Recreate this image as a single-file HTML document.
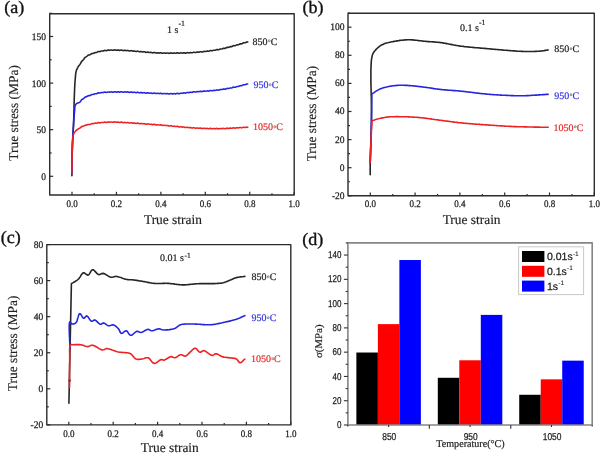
<!DOCTYPE html><html><head><meta charset="utf-8"><style>html,body{margin:0;padding:0;background:#fff;}svg{display:block;will-change:transform;text-rendering:geometricPrecision;}</style></head><body><svg width="602" height="455" viewBox="0 0 602 455">
<rect width="602" height="455" fill="#fff"/>
<polyline points="71.90,175.80 71.91,175.29 71.92,174.79 71.92,174.28 71.93,173.77 71.94,173.26 71.95,172.75 71.95,172.23 71.96,171.72 71.97,171.20 71.97,170.69 71.98,170.17 71.99,169.65 71.99,169.14 72.00,168.62 72.01,168.10 72.01,167.58 72.02,167.06 72.02,166.54 72.03,166.02 72.04,165.50 72.04,164.98 72.05,164.46 72.05,163.94 72.06,163.42 72.07,162.90 72.07,162.38 72.08,161.87 72.09,161.35 72.09,160.83 72.10,160.32 72.11,159.80 72.11,159.29 72.12,158.77 72.13,158.26 72.13,157.75 72.14,157.24 72.15,156.73 72.16,156.22 72.17,155.72 72.17,155.21 72.18,154.71 72.19,154.21 72.20,153.71 72.21,153.21 72.22,152.71 72.23,152.22 72.24,151.72 72.25,151.23 72.26,150.75 72.28,150.26 72.29,149.78 72.30,149.30 72.31,148.82 72.33,148.34 72.34,147.87 72.35,147.40 72.37,146.93 72.38,146.46 72.40,146.00 72.42,145.46 72.44,144.92 72.46,144.38 72.48,143.85 72.51,143.32 72.53,142.79 72.55,142.26 72.58,141.74 72.60,141.22 72.63,140.70 72.66,140.18 72.69,139.67 72.71,139.16 72.74,138.65 72.77,138.14 72.80,137.63 72.83,137.13 72.86,136.63 72.89,136.13 72.92,135.63 72.95,135.13 72.98,134.64 73.01,134.14 73.04,133.65 73.07,133.16 73.09,132.67 73.12,132.19 73.15,131.70 73.18,131.22 73.21,130.73 73.24,130.25 73.26,129.77 73.29,129.29 73.32,128.81 73.34,128.33 73.37,127.85 73.39,127.38 73.42,126.90 73.44,126.42 73.46,125.95 73.48,125.47 73.50,125.00 73.52,124.47 73.54,123.95 73.56,123.42 73.58,122.90 73.60,122.37 73.62,121.85 73.64,121.32 73.65,120.80 73.67,120.28 73.69,119.76 73.70,119.24 73.72,118.72 73.73,118.20 73.75,117.69 73.76,117.18 73.77,116.67 73.79,116.16 73.80,115.65 73.81,115.15 73.83,114.65 73.84,114.15 73.85,113.66 73.87,113.16 73.88,112.68 73.89,112.19 73.90,111.71 73.91,111.23 73.93,110.76 73.94,110.29 73.95,109.82 73.96,109.36 73.98,108.90 73.99,108.45 74.00,108.00 74.02,107.45 74.03,106.92 74.04,106.40 74.06,105.89 74.07,105.39 74.08,104.90 74.09,104.41 74.10,103.93 74.11,103.45 74.12,102.98 74.13,102.51 74.14,102.03 74.16,101.56 74.17,101.08 74.18,100.60 74.19,100.12 74.21,99.62 74.22,99.12 74.24,98.61 74.26,98.09 74.28,97.55 74.30,97.00 74.32,96.54 74.34,96.07 74.35,95.59 74.37,95.10 74.39,94.60 74.41,94.10 74.43,93.58 74.45,93.06 74.47,92.54 74.49,92.01 74.51,91.47 74.53,90.93 74.56,90.39 74.58,89.85 74.60,89.30 74.63,88.75 74.65,88.21 74.68,87.66 74.70,87.12 74.73,86.57 74.76,86.03 74.78,85.50 74.81,84.97 74.84,84.44 74.87,83.92 74.91,83.40 74.94,82.89 74.97,82.39 75.01,81.90 75.04,81.42 75.08,80.95 75.12,80.49 75.16,80.04 75.20,79.60 75.25,79.01 75.30,78.43 75.35,77.86 75.39,77.31 75.43,76.77 75.46,76.23 75.51,75.71 75.55,75.19 75.60,74.68 75.65,74.18 75.72,73.68 75.79,73.19 75.87,72.71 75.97,72.22 76.08,71.74 76.20,71.26 76.34,70.78 76.50,70.30 76.68,69.83 76.87,69.36 77.08,68.89 77.30,68.43 77.53,67.97 77.78,67.51 78.04,66.97 78.30,66.50 78.58,66.08 78.86,65.70 79.15,65.35 79.44,65.00 79.73,64.63 80.03,64.21 80.32,63.75 80.62,63.24 80.91,62.72 81.20,62.22 81.52,61.72 81.83,61.29 82.14,60.93 82.45,60.61 82.77,60.32 83.09,60.00 83.41,59.63 83.74,59.21 84.08,58.73 84.43,58.24 84.79,57.78 85.17,57.40 85.56,57.11 85.97,56.87 86.40,56.61 86.78,56.33 87.18,55.99 87.59,55.61 88.01,55.29 88.44,55.07 88.88,54.98 89.33,54.94 89.79,54.84 90.26,54.61 90.73,54.26 91.21,53.89 91.70,53.63 92.19,53.52 92.69,53.49 93.19,53.41 93.69,53.20 94.19,52.92 94.69,52.68 95.20,52.58 95.70,52.57 96.16,52.56 96.62,52.44 97.08,52.18 97.54,51.87 98.01,51.63 98.48,51.52 98.95,51.55 99.43,51.62 99.91,51.60 100.39,51.45 100.87,51.22 101.36,51.03 101.85,50.96 102.35,50.99 102.85,51.00 103.35,50.90 103.85,50.68 104.36,50.46 104.88,50.37 105.39,50.45 105.91,50.60 106.44,50.65 106.97,50.51 107.50,50.27 107.96,50.11 108.42,50.07 108.89,50.14 109.37,50.23 109.85,50.24 110.33,50.14 110.82,50.01 111.31,49.95 111.80,50.02 112.30,50.19 112.80,50.31 113.30,50.27 113.80,50.10 114.31,49.91 114.82,49.85 115.33,49.96 115.84,50.15 116.36,50.27 116.87,50.24 117.38,50.12 117.90,50.06 118.41,50.13 118.93,50.28 119.44,50.38 119.96,50.33 120.47,50.18 120.98,50.05 121.49,50.08 121.99,50.26 122.50,50.48 123.00,50.59 123.50,50.53 124.00,50.39 124.50,50.29 125.01,50.33 125.51,50.47 126.02,50.59 126.52,50.60 127.02,50.51 127.53,50.42 128.03,50.47 128.53,50.65 129.03,50.87 129.54,50.98 130.04,50.92 130.54,50.76 131.04,50.65 131.54,50.69 132.04,50.87 132.54,51.06 133.04,51.14 133.54,51.10 134.04,51.03 134.54,51.04 135.04,51.18 135.54,51.36 136.04,51.47 136.53,51.42 137.03,51.28 137.53,51.17 138.02,51.22 138.52,51.41 139.01,51.64 139.51,51.77 140.00,51.74 140.51,51.63 141.02,51.57 141.53,51.64 142.03,51.80 142.53,51.92 143.03,51.93 143.53,51.83 144.03,51.75 144.52,51.80 145.02,52.00 145.52,52.23 146.01,52.37 146.51,52.34 147.00,52.20 147.50,52.09 147.99,52.11 148.49,52.27 148.99,52.45 149.49,52.53 150.00,52.49 150.50,52.41 151.01,52.42 151.52,52.56 152.04,52.76 152.55,52.87 153.07,52.80 153.60,52.63 154.13,52.51 154.66,52.57 155.20,52.78 155.68,52.96 156.15,53.02 156.64,52.95 157.12,52.84 157.61,52.80 158.10,52.87 158.59,53.01 159.09,53.09 159.59,53.04 160.09,52.89 160.59,52.78 161.09,52.81 161.60,52.99 162.11,53.20 162.62,53.29 163.13,53.20 163.64,53.02 164.16,52.91 164.67,52.95 165.19,53.09 165.70,53.19 166.22,53.16 166.74,53.04 167.26,52.96 167.78,53.01 168.30,53.19 168.81,53.34 169.33,53.33 169.85,53.16 170.37,52.96 170.89,52.89 171.41,52.98 171.92,53.16 172.44,53.27 172.95,53.23 173.47,53.10 173.98,53.01 174.49,53.05 175.00,53.18 175.50,53.26 176.00,53.21 176.49,53.04 176.99,52.87 177.49,52.84 177.98,52.97 178.48,53.16 178.97,53.28 179.47,53.23 179.96,53.07 180.46,52.92 180.95,52.89 181.44,52.97 181.94,53.07 182.43,53.09 182.93,52.98 183.42,52.84 183.92,52.78 184.41,52.86 184.91,53.03 185.40,53.15 185.90,53.11 186.40,52.93 186.90,52.72 187.40,52.62 187.89,52.68 188.40,52.82 188.90,52.90 189.40,52.85 189.90,52.70 190.41,52.59 190.91,52.61 191.42,52.72 191.92,52.80 192.43,52.74 192.94,52.54 193.46,52.32 193.97,52.23 194.48,52.32 195.00,52.48 195.49,52.56 195.98,52.49 196.47,52.32 196.97,52.15 197.46,52.09 197.97,52.15 198.47,52.21 198.98,52.16 199.48,52.00 200.00,51.80 200.51,51.72 201.02,51.80 201.54,51.95 202.05,52.01 202.57,51.90 203.09,51.66 203.60,51.44 204.12,51.37 204.64,51.44 205.16,51.51 205.68,51.48 206.20,51.32 206.72,51.14 207.24,51.09 207.75,51.16 208.27,51.25 208.78,51.21 209.30,51.01 209.81,50.74 210.32,50.56 210.83,50.55 211.33,50.66 211.84,50.74 212.34,50.69 212.84,50.51 213.33,50.31 213.83,50.20 214.32,50.21 214.80,50.25 215.29,50.21 215.77,50.05 216.24,49.82 216.71,49.62 217.18,49.56 217.64,49.63 218.10,49.73 218.64,49.74 219.17,49.57 219.69,49.28 220.22,49.04 220.74,48.95 221.25,48.97 221.77,48.96 222.28,48.83 222.78,48.60 223.29,48.39 223.79,48.30 224.29,48.33 224.78,48.37 225.27,48.29 225.76,48.06 226.25,47.74 226.74,47.48 227.22,47.37 227.70,47.38 228.18,47.42 228.66,47.36 229.13,47.17 229.61,46.93 230.08,46.73 230.55,46.64 231.03,46.63 231.50,46.61 231.96,46.47 232.43,46.21 232.90,45.92 233.37,45.71 233.83,45.64 234.30,45.69 234.82,45.74 235.34,45.64 235.85,45.39 236.36,45.08 236.87,44.86 237.37,44.77 237.87,44.75 238.37,44.67 238.87,44.47 239.36,44.19 239.86,43.96 240.35,43.86 240.84,43.88 241.33,43.90 241.82,43.79 242.31,43.53 242.80,43.19 243.28,42.91 243.77,42.77 244.26,42.76 244.75,42.76 245.24,42.65 245.73,42.43 246.22,42.16 246.71,41.98 247.20,41.93 247.70,41.92" fill="none" stroke="#262626" stroke-width="1.6" stroke-linejoin="round" stroke-linecap="round"/>
<polyline points="71.90,172.50 71.91,172.00 71.92,171.50 71.93,171.00 71.94,170.49 71.94,169.99 71.95,169.48 71.96,168.98 71.97,168.47 71.98,167.96 71.98,167.46 71.99,166.95 72.00,166.44 72.00,165.93 72.01,165.42 72.02,164.91 72.03,164.40 72.03,163.89 72.04,163.38 72.05,162.87 72.05,162.36 72.06,161.85 72.07,161.34 72.08,160.84 72.08,160.33 72.09,159.82 72.10,159.31 72.11,158.80 72.11,158.30 72.12,157.79 72.13,157.28 72.14,156.78 72.15,156.28 72.15,155.77 72.16,155.27 72.17,154.77 72.18,154.27 72.19,153.77 72.20,153.28 72.21,152.78 72.22,152.28 72.23,151.79 72.25,151.30 72.26,150.81 72.27,150.32 72.28,149.83 72.30,149.35 72.31,148.86 72.32,148.38 72.34,147.90 72.35,147.42 72.37,146.95 72.38,146.47 72.40,146.00 72.42,145.47 72.44,144.95 72.46,144.42 72.48,143.90 72.50,143.38 72.52,142.86 72.54,142.35 72.56,141.83 72.59,141.32 72.61,140.81 72.63,140.30 72.66,139.79 72.68,139.29 72.70,138.78 72.73,138.28 72.75,137.78 72.78,137.28 72.80,136.78 72.83,136.28 72.86,135.79 72.88,135.29 72.91,134.80 72.94,134.30 72.96,133.81 72.99,133.32 73.02,132.82 73.05,132.33 73.08,131.84 73.10,131.35 73.13,130.86 73.16,130.37 73.19,129.88 73.22,129.40 73.25,128.91 73.28,128.42 73.31,127.93 73.34,127.44 73.37,126.95 73.41,126.47 73.44,125.98 73.47,125.49 73.50,125.00 73.53,124.48 73.57,123.96 73.60,123.45 73.64,122.93 73.68,122.42 73.71,121.91 73.75,121.39 73.79,120.88 73.83,120.37 73.86,119.86 73.90,119.35 73.94,118.84 73.98,118.34 74.02,117.83 74.06,117.32 74.10,116.82 74.14,116.31 74.18,115.80 74.22,115.30 74.26,114.79 74.30,114.29 74.35,113.78 74.39,113.28 74.43,112.77 74.47,112.27 74.51,111.77 74.55,111.26 74.59,110.76 74.64,110.25 74.68,109.75 74.72,109.24 74.76,108.74 74.80,108.23 74.84,107.73 74.88,107.22 74.92,106.71 74.96,106.21 75.00,105.70 75.00,105.70 75.28,105.26 75.55,104.81 75.83,104.37 76.14,103.95 76.50,103.60 76.97,103.32 77.52,103.13 78.09,102.87 78.66,102.70 79.20,102.57 79.59,102.37 79.96,102.05 80.32,101.61 80.68,101.10 81.04,100.55 81.41,100.05 81.80,99.66 82.17,99.40 82.54,99.20 82.91,99.00 83.30,98.74 83.69,98.40 84.10,97.98 84.54,97.54 85.00,97.18 85.42,96.98 85.86,96.86 86.32,96.74 86.79,96.54 87.28,96.23 87.78,95.90 88.28,95.68 88.79,95.62 89.30,95.65 89.80,95.61 90.30,95.40 90.80,95.06 91.31,94.72 91.81,94.52 92.31,94.46 92.82,94.46 93.33,94.37 93.85,94.16 94.37,93.90 94.90,93.73 95.45,93.72 96.00,93.76 96.47,93.72 96.93,93.53 97.39,93.26 97.85,93.01 98.31,92.88 98.78,92.90 99.26,92.99 99.74,93.04 100.24,92.95 100.75,92.75 101.28,92.56 101.83,92.50 102.40,92.57 102.99,92.60 103.60,92.44 103.99,92.28 104.39,92.13 104.80,92.08 105.22,92.14 105.65,92.28 106.08,92.41 106.53,92.44 106.98,92.34 107.44,92.15 107.90,92.00 108.37,91.96 108.85,92.03 109.34,92.14 109.83,92.16 110.32,92.07 110.83,91.93 111.33,91.88 111.85,91.97 112.37,92.14 112.89,92.23 113.42,92.16 113.95,91.94 114.48,91.77 115.02,91.77 115.57,91.92 116.11,92.09 116.66,92.11 117.21,91.99 117.77,91.88 118.32,91.90 118.88,92.04 119.44,92.14 120.01,92.06 120.57,91.87 121.14,91.74 121.70,91.82 122.27,92.04 122.83,92.21 123.40,92.18 123.85,92.05 124.30,91.92 124.75,91.88 125.22,91.96 125.68,92.08 126.15,92.15 126.63,92.11 127.11,92.00 127.59,91.91 128.08,91.96 128.57,92.13 129.07,92.32 129.56,92.40 130.07,92.31 130.57,92.13 131.08,92.00 131.59,92.04 132.10,92.21 132.62,92.37 133.14,92.41 133.66,92.33 134.18,92.25 134.70,92.28 135.22,92.43 135.75,92.59 136.28,92.61 136.81,92.47 137.34,92.30 137.86,92.27 138.39,92.42 138.92,92.65 139.46,92.80 139.99,92.77 140.52,92.64 141.05,92.56 141.57,92.62 142.10,92.77 142.63,92.87 143.16,92.82 143.68,92.69 144.21,92.63 144.73,92.72 145.25,92.94 145.77,93.13 146.28,93.16 146.79,93.03 147.31,92.87 147.81,92.81 148.32,92.91 148.82,93.08 149.32,93.19 149.82,93.16 150.31,93.07 150.80,93.02 151.28,93.08 151.76,93.25 152.24,93.39 152.71,93.43 153.18,93.32 153.64,93.15 154.10,93.04 154.55,93.06 155.00,93.20 155.55,93.42 156.10,93.52 156.65,93.44 157.18,93.32 157.72,93.29 158.25,93.40 158.77,93.54 159.29,93.58 159.81,93.48 160.32,93.33 160.83,93.28 161.34,93.40 161.84,93.62 162.34,93.79 162.83,93.81 163.33,93.68 163.82,93.53 164.31,93.47 164.80,93.55 165.29,93.70 165.77,93.79 166.26,93.76 166.74,93.65 167.22,93.58 167.70,93.62 168.18,93.78 168.66,93.94 169.15,93.99 169.63,93.89 170.11,93.70 170.59,93.56 171.08,93.55 171.56,93.68 172.05,93.84 172.53,93.91 173.02,93.85 173.51,93.71 174.01,93.63 174.50,93.67 175.00,93.78 175.50,93.84 176.00,93.78 176.50,93.59 177.00,93.40 177.49,93.35 177.99,93.45 178.48,93.62 178.98,93.70 179.48,93.63 179.97,93.44 180.46,93.26 180.96,93.19 181.45,93.24 181.95,93.31 182.44,93.28 182.94,93.14 183.43,92.96 183.92,92.86 184.42,92.91 184.91,93.04 185.41,93.12 185.91,93.04 186.40,92.82 186.90,92.58 187.40,92.45 187.90,92.48 188.40,92.58 188.90,92.63 189.40,92.55 189.90,92.38 190.41,92.24 190.91,92.23 191.42,92.31 191.92,92.37 192.43,92.30 192.94,92.08 193.46,91.85 193.97,91.75 194.48,91.82 195.00,91.98 195.48,92.06 195.97,91.99 196.46,91.82 196.96,91.65 197.45,91.59 197.95,91.65 198.45,91.72 198.96,91.69 199.46,91.53 199.97,91.35 200.48,91.27 200.99,91.36 201.50,91.52 202.02,91.61 202.53,91.52 203.05,91.30 203.57,91.10 204.08,91.04 204.60,91.12 205.12,91.22 205.63,91.22 206.15,91.09 206.67,90.93 207.18,90.89 207.70,90.97 208.21,91.09 208.72,91.10 209.23,90.94 209.74,90.70 210.25,90.53 210.76,90.52 211.26,90.65 211.76,90.77 212.26,90.77 212.76,90.64 213.25,90.46 213.74,90.36 214.23,90.38 214.72,90.45 215.20,90.46 215.68,90.34 216.15,90.14 216.62,89.96 217.08,89.90 217.54,89.97 218.00,90.10 218.54,90.17 219.08,90.05 219.62,89.79 220.15,89.57 220.68,89.50 221.20,89.55 221.73,89.58 222.24,89.50 222.76,89.30 223.27,89.12 223.77,89.06 224.28,89.13 224.78,89.21 225.28,89.17 225.78,88.97 226.27,88.68 226.76,88.46 227.26,88.40 227.74,88.46 228.23,88.53 228.72,88.49 229.20,88.33 229.68,88.12 230.17,87.97 230.65,87.93 231.13,87.96 231.61,87.95 232.09,87.81 232.56,87.56 233.04,87.30 233.52,87.16 234.00,87.17 234.51,87.26 235.01,87.30 235.52,87.17 236.02,86.91 236.52,86.65 237.01,86.49 237.51,86.46 238.00,86.46 238.49,86.37 238.98,86.16 239.47,85.91 239.95,85.72 240.44,85.67 240.92,85.72 241.41,85.75 241.89,85.64 242.37,85.37 242.86,85.05 243.34,84.81 243.82,84.72 244.30,84.73 244.79,84.74 245.27,84.64 245.75,84.43 246.24,84.19 246.72,84.04 247.21,84.00 247.70,84.02" fill="none" stroke="#2525e0" stroke-width="1.6" stroke-linejoin="round" stroke-linecap="round"/>
<polyline points="71.90,172.50 71.91,172.00 71.92,171.49 71.93,170.98 71.93,170.47 71.94,169.96 71.95,169.44 71.96,168.92 71.96,168.40 71.97,167.88 71.98,167.35 71.98,166.83 71.99,166.30 71.99,165.77 72.00,165.24 72.01,164.71 72.01,164.18 72.02,163.65 72.02,163.11 72.03,162.58 72.03,162.05 72.04,161.52 72.04,160.99 72.05,160.46 72.06,159.93 72.06,159.41 72.07,158.88 72.07,158.36 72.08,157.84 72.09,157.32 72.10,156.81 72.10,156.29 72.11,155.78 72.12,155.27 72.13,154.77 72.14,154.27 72.15,153.77 72.16,153.28 72.17,152.79 72.18,152.31 72.19,151.83 72.21,151.35 72.22,150.88 72.24,150.42 72.25,149.96 72.27,149.50 72.28,149.05 72.30,148.61 72.32,148.18 72.34,147.75 72.36,147.32 72.38,146.91 72.40,146.50 72.43,145.90 72.46,145.30 72.49,144.71 72.52,144.12 72.54,143.54 72.57,142.96 72.60,142.39 72.62,141.82 72.65,141.26 72.68,140.71 72.71,140.17 72.74,139.65 72.78,139.13 72.82,138.62 72.87,138.13 72.91,137.65 72.97,137.19 73.02,136.74 73.09,136.30 73.16,135.89 73.23,135.49 73.31,135.10 73.40,134.74 73.50,134.40 73.70,133.83 73.93,133.34 74.17,132.90 74.43,132.50 74.69,132.12 74.95,131.72 75.20,131.30 75.20,131.30 75.58,130.99 75.95,130.68 76.32,130.37 76.70,130.06 77.12,129.74 77.60,129.40 77.95,129.16 78.33,128.80 78.73,128.59 79.16,128.43 79.60,128.26 80.06,128.00 80.53,127.60 81.00,127.14 81.49,126.74 81.98,126.49 82.47,126.40 82.95,126.35 83.43,126.21 83.90,125.94 84.38,125.62 84.87,125.34 85.36,125.20 85.85,125.17 86.35,125.14 86.85,125.01 87.35,124.77 87.85,124.53 88.34,124.41 88.84,124.44 89.33,124.53 89.82,124.55 90.30,124.40 90.82,124.11 91.32,123.82 91.81,123.67 92.29,123.66 92.77,123.69 93.26,123.66 93.76,123.51 94.27,123.30 94.82,123.15 95.39,123.16 96.00,123.26 96.40,123.27 96.82,123.16 97.25,122.96 97.70,122.73 98.17,122.60 98.64,122.61 99.13,122.74 99.63,122.85 100.13,122.83 100.65,122.67 101.17,122.50 101.69,122.43 102.23,122.49 102.76,122.57 103.30,122.52 103.84,122.34 104.37,122.14 104.91,122.10 105.44,122.23 105.98,122.40 106.50,122.46 107.02,122.34 107.54,122.13 108.04,121.99 108.54,121.99 109.03,122.10 109.50,122.19 110.02,122.17 110.52,122.04 111.01,121.93 111.48,121.93 111.94,122.04 112.40,122.20 112.85,122.29 113.29,122.26 113.74,122.12 114.18,121.95 114.64,121.86 115.10,121.91 115.57,122.07 116.05,122.24 116.55,122.31 117.06,122.24 117.60,122.13 118.16,122.13 118.74,122.28 119.36,122.43 120.00,122.39 120.34,122.29 120.69,122.18 121.05,122.11 121.42,122.14 121.80,122.25 122.18,122.42 122.57,122.59 122.97,122.67 123.37,122.65 123.78,122.55 124.20,122.44 124.63,122.40 125.06,122.45 125.50,122.58 125.94,122.70 126.39,122.73 126.85,122.66 127.31,122.56 127.78,122.54 128.25,122.65 128.73,122.85 129.21,123.03 129.70,123.07 130.19,122.96 130.69,122.79 131.19,122.72 131.69,122.80 132.20,122.99 132.71,123.15 133.23,123.17 133.75,123.09 134.27,123.03 134.80,123.10 135.33,123.28 135.86,123.43 136.40,123.42 136.93,123.27 137.47,123.13 138.01,123.16 138.56,123.37 139.10,123.61 139.65,123.71 140.20,123.63 140.75,123.51 141.30,123.51 141.85,123.64 142.40,123.80 142.96,123.82 143.51,123.72 144.06,123.62 144.62,123.69 145.17,123.92 145.73,124.15 146.28,124.20 146.83,124.07 147.39,123.92 147.94,123.91 148.49,124.07 149.04,124.25 149.59,124.32 150.13,124.25 150.68,124.18 151.22,124.25 151.76,124.44 152.30,124.62 152.83,124.64 153.37,124.50 153.90,124.35 154.43,124.33 154.95,124.50 155.47,124.73 155.99,124.87 156.51,124.86 157.02,124.76 157.53,124.71 158.03,124.79 158.53,124.95 159.02,125.06 159.51,125.05 160.00,124.94 160.52,124.84 161.03,124.87 161.55,125.07 162.07,125.32 162.59,125.45 163.10,125.40 163.62,125.26 164.14,125.18 164.66,125.25 165.17,125.42 165.69,125.57 166.21,125.58 166.73,125.50 167.24,125.46 167.76,125.56 168.28,125.77 168.79,125.97 169.31,126.01 169.83,125.90 170.34,125.75 170.86,125.71 171.37,125.84 171.89,126.07 172.40,126.24 172.91,126.26 173.43,126.18 173.94,126.14 174.45,126.22 174.96,126.40 175.47,126.55 175.98,126.55 176.49,126.44 177.00,126.32 177.51,126.35 178.01,126.54 178.52,126.79 179.02,126.95 179.53,126.94 180.03,126.83 180.53,126.74 181.03,126.79 181.53,126.94 182.03,127.09 182.53,127.14 183.03,127.07 183.52,126.99 184.02,127.01 184.51,127.18 185.00,127.40 185.49,127.55 185.98,127.55 186.47,127.41 186.96,127.27 187.44,127.26 187.93,127.38 188.41,127.58 188.89,127.71 189.37,127.72 189.85,127.65 190.33,127.60 190.80,127.65 191.27,127.80 191.75,127.95 192.22,128.02 192.68,127.95 193.15,127.80 193.62,127.69 194.08,127.71 194.54,127.87 195.00,128.08 195.54,128.23 196.08,128.21 196.61,128.08 197.14,128.00 197.66,128.06 198.18,128.21 198.70,128.31 199.22,128.27 199.73,128.14 200.25,128.06 200.75,128.13 201.26,128.33 201.76,128.53 202.27,128.59 202.76,128.49 203.26,128.32 203.76,128.22 204.25,128.27 204.75,128.42 205.24,128.55 205.73,128.57 206.22,128.48 206.71,128.39 207.19,128.40 207.68,128.53 208.17,128.69 208.65,128.77 209.14,128.69 209.62,128.51 210.11,128.36 210.59,128.35 211.08,128.49 211.56,128.68 212.05,128.79 212.54,128.75 213.02,128.63 213.51,128.53 214.00,128.54 214.49,128.65 214.99,128.75 215.48,128.75 215.97,128.61 216.47,128.46 216.97,128.40 217.47,128.51 217.97,128.70 218.47,128.85 218.98,128.82 219.49,128.66 220.00,128.48 220.49,128.43 220.98,128.50 221.48,128.62 221.97,128.66 222.47,128.58 222.96,128.45 223.46,128.37 223.95,128.43 224.45,128.58 224.95,128.69 225.45,128.66 225.95,128.47 226.45,128.26 226.95,128.15 227.45,128.21 227.96,128.36 228.46,128.46 228.96,128.42 229.46,128.28 229.97,128.15 230.47,128.14 230.98,128.23 231.48,128.32 231.99,128.27 232.50,128.09 233.00,127.89 233.51,127.81 234.02,127.89 234.52,128.06 235.03,128.17 235.54,128.12 236.04,127.93 236.55,127.75 237.06,127.70 237.57,127.76 238.08,127.84 238.58,127.83 239.09,127.69 239.60,127.52 240.11,127.47 240.62,127.56 241.12,127.72 241.63,127.79 242.14,127.69 242.64,127.47 243.15,127.27 243.66,127.21 244.16,127.31 244.67,127.43 245.18,127.46 245.68,127.36 246.19,127.21 246.69,127.15 247.20,127.20 247.70,127.32" fill="none" stroke="#ee2222" stroke-width="1.6" stroke-linejoin="round" stroke-linecap="round"/>
<rect x="49.70" y="13.80" width="244.50" height="181.20" fill="none" stroke="#2c2c2c" stroke-width="1.4" stroke-linejoin="round"/>
<line x1="72.00" y1="195.00" x2="72.00" y2="191.80" stroke="#2c2c2c" stroke-width="1.2"/>
<text transform="translate(72.00,207.00) scale(0.9,1)" font-family='"Liberation Serif", serif' font-size="10" text-anchor="middle" fill="#1e1e1e" stroke="#1e1e1e" stroke-width="0.25">0.0</text>
<line x1="94.22" y1="195.00" x2="94.22" y2="193.20" stroke="#2c2c2c" stroke-width="1.2"/>
<line x1="116.44" y1="195.00" x2="116.44" y2="191.80" stroke="#2c2c2c" stroke-width="1.2"/>
<text transform="translate(116.44,207.00) scale(0.9,1)" font-family='"Liberation Serif", serif' font-size="10" text-anchor="middle" fill="#1e1e1e" stroke="#1e1e1e" stroke-width="0.25">0.2</text>
<line x1="138.66" y1="195.00" x2="138.66" y2="193.20" stroke="#2c2c2c" stroke-width="1.2"/>
<line x1="160.88" y1="195.00" x2="160.88" y2="191.80" stroke="#2c2c2c" stroke-width="1.2"/>
<text transform="translate(160.88,207.00) scale(0.9,1)" font-family='"Liberation Serif", serif' font-size="10" text-anchor="middle" fill="#1e1e1e" stroke="#1e1e1e" stroke-width="0.25">0.4</text>
<line x1="183.10" y1="195.00" x2="183.10" y2="193.20" stroke="#2c2c2c" stroke-width="1.2"/>
<line x1="205.32" y1="195.00" x2="205.32" y2="191.80" stroke="#2c2c2c" stroke-width="1.2"/>
<text transform="translate(205.32,207.00) scale(0.9,1)" font-family='"Liberation Serif", serif' font-size="10" text-anchor="middle" fill="#1e1e1e" stroke="#1e1e1e" stroke-width="0.25">0.6</text>
<line x1="227.54" y1="195.00" x2="227.54" y2="193.20" stroke="#2c2c2c" stroke-width="1.2"/>
<line x1="249.76" y1="195.00" x2="249.76" y2="191.80" stroke="#2c2c2c" stroke-width="1.2"/>
<text transform="translate(249.76,207.00) scale(0.9,1)" font-family='"Liberation Serif", serif' font-size="10" text-anchor="middle" fill="#1e1e1e" stroke="#1e1e1e" stroke-width="0.25">0.8</text>
<line x1="271.98" y1="195.00" x2="271.98" y2="193.20" stroke="#2c2c2c" stroke-width="1.2"/>
<line x1="294.20" y1="195.00" x2="294.20" y2="191.80" stroke="#2c2c2c" stroke-width="1.2"/>
<text transform="translate(294.20,207.00) scale(0.9,1)" font-family='"Liberation Serif", serif' font-size="10" text-anchor="middle" fill="#1e1e1e" stroke="#1e1e1e" stroke-width="0.25">1.0</text>
<line x1="49.70" y1="153.00" x2="51.70" y2="153.00" stroke="#2c2c2c" stroke-width="1.2"/>
<line x1="49.70" y1="176.30" x2="53.20" y2="176.30" stroke="#2c2c2c" stroke-width="1.2"/>
<text transform="translate(46.10,179.80) scale(0.95,1)" font-family='"Liberation Serif", serif' font-size="10" text-anchor="end" fill="#1e1e1e" stroke="#1e1e1e" stroke-width="0.25">0</text>
<line x1="49.70" y1="129.70" x2="53.20" y2="129.70" stroke="#2c2c2c" stroke-width="1.2"/>
<text transform="translate(46.10,133.20) scale(0.95,1)" font-family='"Liberation Serif", serif' font-size="10" text-anchor="end" fill="#1e1e1e" stroke="#1e1e1e" stroke-width="0.25">50</text>
<line x1="49.70" y1="106.40" x2="51.70" y2="106.40" stroke="#2c2c2c" stroke-width="1.2"/>
<line x1="49.70" y1="83.10" x2="53.20" y2="83.10" stroke="#2c2c2c" stroke-width="1.2"/>
<text transform="translate(46.10,86.60) scale(0.95,1)" font-family='"Liberation Serif", serif' font-size="10" text-anchor="end" fill="#1e1e1e" stroke="#1e1e1e" stroke-width="0.25">100</text>
<line x1="49.70" y1="59.80" x2="51.70" y2="59.80" stroke="#2c2c2c" stroke-width="1.2"/>
<line x1="49.70" y1="36.50" x2="53.20" y2="36.50" stroke="#2c2c2c" stroke-width="1.2"/>
<text transform="translate(46.10,40.00) scale(0.95,1)" font-family='"Liberation Serif", serif' font-size="10" text-anchor="end" fill="#1e1e1e" stroke="#1e1e1e" stroke-width="0.25">150</text>
<line x1="49.70" y1="13.20" x2="51.70" y2="13.20" stroke="#2c2c2c" stroke-width="1.2"/>
<text x="172.9" y="223.9" font-family='"Liberation Serif", serif' font-size="13.4" text-anchor="middle" fill="#222" stroke="#222" stroke-width="0.15">True strain</text>
<text x="0" y="0" transform="translate(17.8,112.9) rotate(-90)" font-family='"Liberation Serif", serif' font-size="13.4" text-anchor="middle" fill="#222" stroke="#222" stroke-width="0.15">True stress (MPa)</text>
<text x="167" y="32.6" font-family='"Liberation Serif", serif' font-size="10" fill="#222" stroke="#222" stroke-width="0.2">1 s<tspan font-size="7.8" dx="0.1" dy="-6.2">-1</tspan></text>
<text x="252.6" y="44.6" font-family='"Liberation Serif", serif' font-size="10" text-anchor="start" fill="#222" stroke="#222" stroke-width="0.2">850<tspan font-size="5" dx="0.5" dy="-2.4" fill="#777" stroke="#777" stroke-width="0.3">o</tspan><tspan dx="0.2" dy="2.4">C</tspan></text>
<text x="253.5" y="88.2" font-family='"Liberation Serif", serif' font-size="10" text-anchor="start" fill="#3434e6" stroke="#3434e6" stroke-width="0.2">950<tspan font-size="5" dx="0.5" dy="-2.4" fill="#777" stroke="#777" stroke-width="0.3">o</tspan><tspan dx="0.2" dy="2.4">C</tspan></text>
<text x="253.1" y="130.0" font-family='"Liberation Serif", serif' font-size="10" text-anchor="start" fill="#e52b2b" stroke="#e52b2b" stroke-width="0.2">1050<tspan font-size="5" dx="0.5" dy="-2.4" fill="#777" stroke="#777" stroke-width="0.3">o</tspan><tspan dx="0.2" dy="2.4">C</tspan></text>
<text transform="translate(4.20,12.80) scale(1.03,1)" font-family='"Liberation Serif", serif' font-size="17.5" text-anchor="start" fill="#111" stroke="#111" stroke-width="0.35">(a)</text>
<polyline points="370.2,174.7 370.2,173.7 370.2,172.7 370.2,171.8 370.2,170.9 370.2,169.9 370.2,169.0 370.2,168.0 370.2,166.9 370.2,165.8 370.2,164.6 370.2,163.3 370.2,162.6 370.2,161.9 370.2,161.1 370.3,160.4 370.3,159.6 370.3,158.8 370.3,157.9 370.3,157.1 370.4,156.2 370.4,155.3 370.4,154.4 370.5,153.5 370.5,152.5 370.5,151.6 370.6,150.6 370.6,149.6 370.6,148.6 370.7,147.6 370.7,146.5 370.7,145.5 370.8,144.4 370.8,143.4 370.8,142.3 370.9,141.2 370.9,140.1 371.0,139.0 371.0,137.9 371.0,136.8 371.1,135.7 371.1,134.6 371.1,133.5 371.2,132.3 371.2,131.2 371.2,130.1 371.3,129.0 371.3,127.8 371.3,126.7 371.4,125.6 371.4,124.5 371.4,123.3 371.5,122.2 371.5,121.1 371.5,120.0 371.5,119.1 371.5,118.1 371.5,117.2 371.5,116.2 371.5,115.2 371.5,114.1 371.5,113.1 371.5,112.0 371.5,110.9 371.5,109.8 371.5,108.7 371.5,107.6 371.5,106.5 371.4,105.3 371.4,104.2 371.4,103.0 371.4,101.8 371.3,100.7 371.3,99.5 371.3,98.3 371.3,97.1 371.2,95.9 371.2,94.7 371.2,93.5 371.1,92.3 371.1,91.1 371.1,89.9 371.1,88.7 371.0,87.5 371.0,86.4 371.0,85.2 371.0,84.0 370.9,82.8 370.9,81.7 370.9,80.5 370.9,79.4 370.9,78.3 370.9,77.2 370.9,76.1 370.9,75.0 370.9,73.9 370.9,72.8 370.9,71.8 370.9,70.8 370.9,69.8 370.9,68.8 371.0,67.9 371.0,66.9 371.0,66.0 371.1,65.1 371.1,64.3 371.2,63.4 371.2,62.6 371.3,61.8 371.3,61.1 371.4,60.3 371.5,59.7 371.6,59.0 371.7,58.4 371.8,57.8 371.9,57.2 372.0,56.7 372.1,56.2 372.5,54.8 373.0,53.6 373.5,52.7 374.1,51.8 374.7,51.1 375.4,50.2 376.1,49.4 376.8,48.7 377.5,48.0 378.3,47.3 379.2,46.6 380.1,45.9 381.0,45.3 382.0,44.8 382.9,44.4 383.8,44.0 384.7,43.6 385.6,43.3 386.6,43.0 387.7,42.8 388.7,42.5 389.8,42.3 390.8,42.0 391.9,41.8 393.0,41.6 393.9,41.4 394.9,41.2 395.9,41.1 396.9,40.9 397.9,40.7 398.9,40.6 399.9,40.4 401.0,40.3 402.0,40.2 403.1,40.1 404.1,40.0 405.2,39.9 406.3,39.9 407.3,39.8 408.4,39.8 409.4,39.8 410.4,39.8 411.5,39.9 412.5,39.9 413.5,40.0 414.6,40.1 415.7,40.2 416.7,40.3 417.8,40.5 418.8,40.6 419.9,40.7 420.9,40.8 422.0,41.0 423.0,41.1 424.0,41.2 425.0,41.3 426.0,41.4 427.0,41.5 428.1,41.6 429.1,41.6 430.0,41.7 431.0,41.7 432.0,41.8 432.9,41.9 433.9,41.9 434.9,42.0 435.8,42.1 436.8,42.2 437.9,42.3 438.9,42.4 440.0,42.5 440.9,42.6 441.9,42.8 442.8,42.9 443.8,43.1 444.7,43.2 445.7,43.4 446.7,43.6 447.7,43.8 448.7,44.0 449.8,44.2 450.8,44.4 451.8,44.6 452.9,44.8 453.9,45.0 455.0,45.2 456.0,45.4 457.1,45.5 458.2,45.7 459.3,45.9 460.3,46.1 461.4,46.2 462.4,46.3 463.3,46.4 464.3,46.6 465.3,46.7 466.3,46.8 467.3,46.9 468.4,47.0 469.4,47.1 470.4,47.2 471.4,47.3 472.5,47.4 473.5,47.5 474.6,47.6 475.6,47.7 476.6,47.8 477.7,47.8 478.7,47.9 479.8,48.0 480.8,48.1 481.8,48.2 482.8,48.3 483.8,48.4 484.8,48.4 485.8,48.5 486.8,48.6 487.8,48.7 488.9,48.8 489.9,48.9 491.0,49.0 492.0,49.1 493.1,49.2 494.1,49.3 495.2,49.4 496.2,49.5 497.3,49.5 498.3,49.6 499.3,49.7 500.3,49.8 501.3,49.9 502.4,50.0 503.3,50.1 504.3,50.2 505.3,50.2 506.3,50.3 507.2,50.4 508.2,50.5 509.1,50.5 510.0,50.6 511.1,50.7 512.2,50.8 513.3,50.9 514.4,50.9 515.4,51.0 516.4,51.1 517.4,51.2 518.4,51.2 519.4,51.3 520.4,51.3 521.4,51.4 522.5,51.4 523.5,51.5 524.5,51.5 525.5,51.5 526.6,51.5 527.7,51.5 528.7,51.5 529.8,51.5 530.9,51.5 532.0,51.5 533.0,51.5 534.1,51.5 535.1,51.4 536.1,51.4 537.1,51.3 538.1,51.3 539.0,51.2 540.1,51.1 541.2,51.0 542.2,50.9 543.2,50.7 544.2,50.6 545.2,50.4 546.2,50.3 547.2,50.1 548.2,50.0" fill="none" stroke="#262626" stroke-width="1.6" stroke-linejoin="round" stroke-linecap="round"/>
<polyline points="370.2,163.0 370.2,162.0 370.3,161.0 370.3,160.0 370.3,159.0 370.4,158.1 370.4,157.1 370.5,156.1 370.5,155.1 370.5,154.1 370.6,153.2 370.6,152.2 370.6,151.2 370.7,150.2 370.7,149.2 370.7,148.2 370.8,147.2 370.8,146.2 370.8,145.2 370.9,144.2 370.9,143.2 370.9,142.1 371.0,141.1 371.0,140.0 371.0,139.1 371.1,138.1 371.1,137.1 371.1,136.1 371.1,135.1 371.1,134.1 371.2,133.1 371.2,132.0 371.2,131.0 371.2,129.9 371.3,128.9 371.3,127.8 371.3,126.8 371.3,125.7 371.3,124.7 371.4,123.6 371.4,122.6 371.4,121.5 371.4,120.5 371.4,119.5 371.4,118.4 371.5,117.4 371.5,116.4 371.5,115.5 371.5,114.5 371.5,113.6 371.6,112.6 371.6,111.7 371.6,110.9 371.6,110.0 371.6,108.9 371.6,107.8 371.7,106.7 371.7,105.6 371.7,104.6 371.7,103.6 371.7,102.7 371.8,101.7 371.8,100.7 371.8,99.8 371.8,98.8 371.8,97.9 371.8,96.9 371.9,96.0 371.9,95.0 371.9,94.0 371.9,94.0 372.8,93.4 373.6,92.9 374.4,92.3 375.3,91.7 376.1,91.1 377.0,90.6 377.9,90.1 378.8,89.6 379.8,89.1 380.7,88.7 381.6,88.4 382.6,88.1 383.6,87.8 384.6,87.5 385.6,87.2 386.7,87.0 387.7,86.7 388.8,86.5 389.9,86.3 390.9,86.1 392.0,86.0 393.0,85.8 394.0,85.7 395.0,85.6 396.0,85.5 397.0,85.4 397.9,85.4 398.9,85.3 399.9,85.3 400.9,85.3 401.9,85.3 403.0,85.3 404.0,85.3 405.1,85.4 406.2,85.4 407.2,85.4 408.1,85.5 409.1,85.6 410.2,85.6 411.2,85.7 412.3,85.8 413.4,85.9 414.4,86.0 415.5,86.1 416.6,86.3 417.7,86.4 418.8,86.5 419.9,86.6 420.9,86.8 422.0,86.9 423.0,87.0 424.0,87.2 425.0,87.3 426.0,87.4 427.1,87.5 428.1,87.7 429.1,87.8 430.1,88.0 431.1,88.1 432.0,88.3 433.0,88.4 433.9,88.6 434.9,88.7 435.9,88.9 436.8,89.0 437.9,89.1 438.9,89.3 440.0,89.4 440.9,89.5 441.9,89.6 442.8,89.7 443.8,89.8 444.7,89.9 445.7,89.9 446.7,90.0 447.7,90.1 448.7,90.2 449.8,90.3 450.8,90.3 451.8,90.4 452.9,90.5 453.9,90.6 455.0,90.6 456.1,90.7 457.1,90.8 458.2,90.9 459.3,91.0 460.3,91.1 461.4,91.2 462.4,91.3 463.3,91.4 464.3,91.5 465.3,91.6 466.3,91.7 467.3,91.9 468.3,92.0 469.4,92.1 470.4,92.2 471.4,92.3 472.4,92.5 473.5,92.6 474.5,92.7 475.5,92.9 476.6,93.0 477.6,93.1 478.6,93.2 479.7,93.4 480.7,93.5 481.7,93.6 482.8,93.7 483.8,93.8 484.8,93.9 485.8,94.0 486.8,94.1 487.8,94.2 488.8,94.3 489.9,94.4 490.9,94.5 492.0,94.5 493.0,94.6 494.1,94.7 495.2,94.8 496.2,94.8 497.3,94.9 498.4,95.0 499.4,95.0 500.5,95.1 501.5,95.1 502.5,95.2 503.5,95.2 504.6,95.3 505.6,95.3 506.5,95.4 507.5,95.4 508.4,95.5 509.4,95.5 510.3,95.5 511.1,95.6 512.0,95.6 513.2,95.6 514.3,95.7 515.3,95.7 516.3,95.7 517.3,95.7 518.3,95.8 519.2,95.8 520.2,95.8 521.2,95.8 522.2,95.7 523.3,95.7 524.5,95.7 525.4,95.7 526.3,95.6 527.2,95.6 528.2,95.6 529.2,95.5 530.1,95.5 531.2,95.4 532.2,95.3 533.2,95.3 534.3,95.2 535.3,95.1 536.4,95.1 537.5,95.0 538.6,94.9 539.7,94.9 540.7,94.8 541.8,94.7 542.9,94.6 544.0,94.6 545.1,94.5 546.1,94.4 547.2,94.4 548.2,94.3" fill="none" stroke="#2525e0" stroke-width="1.6" stroke-linejoin="round" stroke-linecap="round"/>
<polyline points="370.2,162.4 370.2,161.4 370.3,160.4 370.3,159.3 370.3,158.3 370.4,157.3 370.4,156.2 370.4,155.2 370.5,154.2 370.5,153.1 370.6,152.1 370.6,151.1 370.6,150.1 370.7,149.0 370.7,148.0 370.7,147.0 370.8,146.0 370.8,145.0 370.8,144.0 370.9,143.0 370.9,142.0 371.0,141.0 371.0,140.0 371.0,139.0 371.1,137.9 371.1,136.9 371.2,135.9 371.2,134.9 371.3,133.9 371.3,132.9 371.4,131.9 371.4,130.9 371.5,129.9 371.5,128.9 371.6,127.9 371.6,126.9 371.7,125.9 371.7,124.9 371.8,123.9 371.8,122.9 371.9,121.9 371.9,120.9 371.9,120.9 372.8,120.6 373.7,120.3 374.6,119.9 375.6,119.6 376.5,119.3 377.6,119.0 378.5,118.8 379.5,118.5 380.5,118.3 381.5,118.1 382.5,117.9 383.6,117.7 384.7,117.5 385.8,117.3 387.0,117.1 388.1,117.0 389.0,116.9 390.0,116.8 390.9,116.8 391.9,116.7 392.9,116.7 393.9,116.7 394.9,116.7 395.9,116.6 397.0,116.6 398.0,116.6 399.0,116.7 400.1,116.7 401.1,116.7 402.2,116.7 403.2,116.7 404.2,116.7 405.2,116.8 406.2,116.8 407.2,116.8 408.2,116.9 409.3,116.9 410.3,117.0 411.3,117.0 412.4,117.1 413.4,117.1 414.5,117.2 415.5,117.3 416.6,117.3 417.7,117.4 418.7,117.5 419.8,117.6 420.8,117.7 421.8,117.8 422.8,117.9 423.7,118.0 424.7,118.1 425.7,118.3 426.7,118.4 427.8,118.5 428.8,118.7 429.8,118.8 430.8,118.9 431.8,119.1 432.8,119.2 433.9,119.4 434.9,119.5 435.9,119.7 436.9,119.8 438.0,119.9 439.0,120.1 440.0,120.2 441.0,120.3 442.0,120.5 443.0,120.6 444.0,120.7 445.0,120.9 446.0,121.0 447.0,121.1 448.0,121.3 449.0,121.4 450.0,121.5 451.0,121.7 452.0,121.8 453.1,121.9 454.1,122.1 455.1,122.2 456.1,122.3 457.2,122.4 458.2,122.6 459.3,122.7 460.3,122.8 461.4,122.9 462.4,123.0 463.3,123.1 464.3,123.2 465.3,123.3 466.3,123.4 467.3,123.5 468.3,123.5 469.3,123.6 470.3,123.7 471.3,123.8 472.3,123.9 473.4,124.0 474.4,124.0 475.4,124.1 476.5,124.2 477.5,124.3 478.5,124.3 479.6,124.4 480.6,124.5 481.6,124.6 482.7,124.6 483.7,124.7 484.7,124.8 485.7,124.9 486.8,124.9 487.8,125.0 488.8,125.1 489.8,125.1 490.8,125.2 491.8,125.3 492.8,125.3 493.8,125.4 494.8,125.5 495.7,125.5 496.7,125.6 497.7,125.7 498.7,125.7 499.7,125.8 500.7,125.9 501.7,125.9 502.7,126.0 503.7,126.0 504.7,126.1 505.7,126.2 506.7,126.2 507.7,126.3 508.8,126.3 509.8,126.4 510.8,126.4 511.9,126.5 512.9,126.5 513.9,126.6 515.0,126.6 516.0,126.6 516.9,126.7 517.9,126.7 518.9,126.7 519.8,126.8 520.8,126.8 521.8,126.8 522.8,126.8 523.8,126.9 524.8,126.9 525.8,126.9 526.8,126.9 527.8,127.0 528.9,127.0 529.9,127.0 530.9,127.0 531.9,127.0 532.9,127.0 533.9,127.1 535.0,127.1 536.0,127.1 537.0,127.1 538.0,127.1 539.1,127.1 540.1,127.2 541.1,127.2 542.1,127.2 543.1,127.2 544.2,127.2 545.2,127.2 546.2,127.3 547.2,127.3 548.2,127.3" fill="none" stroke="#ee2222" stroke-width="1.6" stroke-linejoin="round" stroke-linecap="round"/>
<rect x="348.00" y="13.30" width="246.30" height="182.40" fill="none" stroke="#2c2c2c" stroke-width="1.4" stroke-linejoin="round"/>
<line x1="370.30" y1="195.70" x2="370.30" y2="192.50" stroke="#2c2c2c" stroke-width="1.2"/>
<text transform="translate(370.30,207.30) scale(0.9,1)" font-family='"Liberation Serif", serif' font-size="10" text-anchor="middle" fill="#1e1e1e" stroke="#1e1e1e" stroke-width="0.25">0.0</text>
<line x1="392.70" y1="195.70" x2="392.70" y2="193.90" stroke="#2c2c2c" stroke-width="1.2"/>
<line x1="415.10" y1="195.70" x2="415.10" y2="192.50" stroke="#2c2c2c" stroke-width="1.2"/>
<text transform="translate(415.10,207.30) scale(0.9,1)" font-family='"Liberation Serif", serif' font-size="10" text-anchor="middle" fill="#1e1e1e" stroke="#1e1e1e" stroke-width="0.25">0.2</text>
<line x1="437.50" y1="195.70" x2="437.50" y2="193.90" stroke="#2c2c2c" stroke-width="1.2"/>
<line x1="459.90" y1="195.70" x2="459.90" y2="192.50" stroke="#2c2c2c" stroke-width="1.2"/>
<text transform="translate(459.90,207.30) scale(0.9,1)" font-family='"Liberation Serif", serif' font-size="10" text-anchor="middle" fill="#1e1e1e" stroke="#1e1e1e" stroke-width="0.25">0.4</text>
<line x1="482.30" y1="195.70" x2="482.30" y2="193.90" stroke="#2c2c2c" stroke-width="1.2"/>
<line x1="504.70" y1="195.70" x2="504.70" y2="192.50" stroke="#2c2c2c" stroke-width="1.2"/>
<text transform="translate(504.70,207.30) scale(0.9,1)" font-family='"Liberation Serif", serif' font-size="10" text-anchor="middle" fill="#1e1e1e" stroke="#1e1e1e" stroke-width="0.25">0.6</text>
<line x1="527.10" y1="195.70" x2="527.10" y2="193.90" stroke="#2c2c2c" stroke-width="1.2"/>
<line x1="549.50" y1="195.70" x2="549.50" y2="192.50" stroke="#2c2c2c" stroke-width="1.2"/>
<text transform="translate(549.50,207.30) scale(0.9,1)" font-family='"Liberation Serif", serif' font-size="10" text-anchor="middle" fill="#1e1e1e" stroke="#1e1e1e" stroke-width="0.25">0.8</text>
<line x1="571.90" y1="195.70" x2="571.90" y2="193.90" stroke="#2c2c2c" stroke-width="1.2"/>
<line x1="594.30" y1="195.70" x2="594.30" y2="192.50" stroke="#2c2c2c" stroke-width="1.2"/>
<text transform="translate(594.30,207.30) scale(0.9,1)" font-family='"Liberation Serif", serif' font-size="10" text-anchor="middle" fill="#1e1e1e" stroke="#1e1e1e" stroke-width="0.25">1.0</text>
<line x1="348.00" y1="195.80" x2="351.50" y2="195.80" stroke="#2c2c2c" stroke-width="1.2"/>
<text transform="translate(344.60,198.70) scale(0.95,1)" font-family='"Liberation Serif", serif' font-size="10" text-anchor="end" fill="#1e1e1e" stroke="#1e1e1e" stroke-width="0.25">-20</text>
<line x1="348.00" y1="181.75" x2="350.00" y2="181.75" stroke="#2c2c2c" stroke-width="1.2"/>
<line x1="348.00" y1="167.70" x2="351.50" y2="167.70" stroke="#2c2c2c" stroke-width="1.2"/>
<text transform="translate(344.60,170.60) scale(0.95,1)" font-family='"Liberation Serif", serif' font-size="10" text-anchor="end" fill="#1e1e1e" stroke="#1e1e1e" stroke-width="0.25">0</text>
<line x1="348.00" y1="153.65" x2="350.00" y2="153.65" stroke="#2c2c2c" stroke-width="1.2"/>
<line x1="348.00" y1="139.60" x2="351.50" y2="139.60" stroke="#2c2c2c" stroke-width="1.2"/>
<text transform="translate(344.60,142.50) scale(0.95,1)" font-family='"Liberation Serif", serif' font-size="10" text-anchor="end" fill="#1e1e1e" stroke="#1e1e1e" stroke-width="0.25">20</text>
<line x1="348.00" y1="125.55" x2="350.00" y2="125.55" stroke="#2c2c2c" stroke-width="1.2"/>
<line x1="348.00" y1="111.50" x2="351.50" y2="111.50" stroke="#2c2c2c" stroke-width="1.2"/>
<text transform="translate(344.60,114.40) scale(0.95,1)" font-family='"Liberation Serif", serif' font-size="10" text-anchor="end" fill="#1e1e1e" stroke="#1e1e1e" stroke-width="0.25">40</text>
<line x1="348.00" y1="97.45" x2="350.00" y2="97.45" stroke="#2c2c2c" stroke-width="1.2"/>
<line x1="348.00" y1="83.40" x2="351.50" y2="83.40" stroke="#2c2c2c" stroke-width="1.2"/>
<text transform="translate(344.60,86.30) scale(0.95,1)" font-family='"Liberation Serif", serif' font-size="10" text-anchor="end" fill="#1e1e1e" stroke="#1e1e1e" stroke-width="0.25">60</text>
<line x1="348.00" y1="69.35" x2="350.00" y2="69.35" stroke="#2c2c2c" stroke-width="1.2"/>
<line x1="348.00" y1="55.30" x2="351.50" y2="55.30" stroke="#2c2c2c" stroke-width="1.2"/>
<text transform="translate(344.60,58.20) scale(0.95,1)" font-family='"Liberation Serif", serif' font-size="10" text-anchor="end" fill="#1e1e1e" stroke="#1e1e1e" stroke-width="0.25">80</text>
<line x1="348.00" y1="41.25" x2="350.00" y2="41.25" stroke="#2c2c2c" stroke-width="1.2"/>
<line x1="348.00" y1="27.20" x2="351.50" y2="27.20" stroke="#2c2c2c" stroke-width="1.2"/>
<text transform="translate(344.60,30.10) scale(0.95,1)" font-family='"Liberation Serif", serif' font-size="10" text-anchor="end" fill="#1e1e1e" stroke="#1e1e1e" stroke-width="0.25">100</text>
<line x1="348.00" y1="13.15" x2="350.00" y2="13.15" stroke="#2c2c2c" stroke-width="1.2"/>
<text x="471.6" y="223.5" font-family='"Liberation Serif", serif' font-size="13.4" text-anchor="middle" fill="#222" stroke="#222" stroke-width="0.15">True strain</text>
<text x="0" y="0" transform="translate(315.8,113.6) rotate(-90)" font-family='"Liberation Serif", serif' font-size="13.4" text-anchor="middle" fill="#222" stroke="#222" stroke-width="0.15">True stress (MPa)</text>
<text x="460" y="31.0" font-family='"Liberation Serif", serif' font-size="10" fill="#222" stroke="#222" stroke-width="0.2">0.1 s<tspan font-size="7.8" dx="0.1" dy="-6.2">-1</tspan></text>
<text x="554.2" y="52.4" font-family='"Liberation Serif", serif' font-size="10" text-anchor="start" fill="#222" stroke="#222" stroke-width="0.2">850<tspan font-size="5" dx="0.5" dy="-2.4" fill="#777" stroke="#777" stroke-width="0.3">o</tspan><tspan dx="0.2" dy="2.4">C</tspan></text>
<text x="554.2" y="98.8" font-family='"Liberation Serif", serif' font-size="10" text-anchor="start" fill="#3434e6" stroke="#3434e6" stroke-width="0.2">950<tspan font-size="5" dx="0.5" dy="-2.4" fill="#777" stroke="#777" stroke-width="0.3">o</tspan><tspan dx="0.2" dy="2.4">C</tspan></text>
<text x="553.5" y="130.7" font-family='"Liberation Serif", serif' font-size="10" text-anchor="start" fill="#e52b2b" stroke="#e52b2b" stroke-width="0.2">1050<tspan font-size="5" dx="0.5" dy="-2.4" fill="#777" stroke="#777" stroke-width="0.3">o</tspan><tspan dx="0.2" dy="2.4">C</tspan></text>
<text transform="translate(302.60,13.30) scale(1.03,1)" font-family='"Liberation Serif", serif' font-size="17.5" text-anchor="start" fill="#111" stroke="#111" stroke-width="0.35">(b)</text>
<polyline points="68.9,403.3 71.4,283.7 71.4,283.7 72.3,283.1 73.2,282.6 74.2,282.0 75.1,281.5 76.0,280.9 76.9,280.3 77.7,279.7 78.5,279.0 79.3,278.1 80.0,277.1 80.7,275.9 81.3,274.8 82.0,273.9 82.7,273.2 83.4,272.8 84.3,272.9 85.3,273.6 86.2,274.3 87.2,274.9 88.1,275.1 88.9,274.6 89.6,273.6 90.3,272.3 91.0,271.1 91.7,270.1 92.5,269.7 93.3,269.9 94.2,270.5 95.1,271.4 96.0,272.4 96.9,273.4 97.8,274.2 98.7,274.6 99.8,274.5 100.8,274.1 101.9,273.6 103.0,273.4 103.9,273.6 104.9,274.0 105.9,274.6 106.9,275.2 108.0,275.9 109.0,276.5 110.1,276.9 111.0,277.2 112.1,277.2 113.1,277.0 114.0,276.7 115.1,276.5 116.2,276.4 117.0,276.5 118.0,276.7 118.9,277.0 119.9,277.3 121.0,277.6 122.0,278.0 123.1,278.4 124.1,278.7 125.0,279.1 126.0,279.3 126.8,279.5 127.9,279.6 128.9,279.7 129.9,279.7 130.9,279.7 132.0,279.8 132.9,279.9 133.8,280.0 134.8,280.1 135.8,280.3 136.8,280.4 137.8,280.6 138.9,280.8 140.0,281.0 141.0,281.1 142.1,281.3 143.1,281.5 144.0,281.6 145.0,281.8 146.0,282.0 147.0,282.2 148.0,282.4 149.0,282.6 150.0,282.8 151.1,283.0 152.1,283.2 153.1,283.3 154.2,283.4 155.2,283.5 156.2,283.5 157.2,283.5 158.2,283.5 159.2,283.5 160.3,283.5 161.3,283.5 162.4,283.4 163.4,283.4 164.4,283.4 165.5,283.3 166.5,283.3 167.6,283.4 168.6,283.4 169.6,283.5 170.7,283.6 171.7,283.7 172.7,283.8 173.8,283.9 174.8,284.1 175.8,284.2 176.9,284.4 177.9,284.5 179.0,284.6 180.0,284.7 181.0,284.8 182.1,284.9 183.1,284.9 184.1,284.9 185.1,284.9 186.1,284.8 187.1,284.7 188.1,284.6 189.1,284.5 190.1,284.4 191.1,284.3 192.1,284.2 193.2,284.1 194.2,284.0 195.3,283.9 196.4,283.8 197.6,283.7 198.5,283.7 199.5,283.6 200.4,283.6 201.5,283.6 202.5,283.6 203.6,283.6 204.7,283.6 205.8,283.6 206.9,283.6 208.0,283.6 209.1,283.6 210.3,283.6 211.4,283.6 212.5,283.6 213.6,283.6 214.6,283.6 215.7,283.5 216.7,283.5 217.7,283.4 218.6,283.4 219.5,283.3 220.4,283.2 221.2,283.1 221.9,283.0 223.2,282.7 224.3,282.4 225.4,282.1 226.3,281.7 227.3,281.3 228.2,280.9 229.2,280.5 230.2,280.1 231.2,279.7 232.2,279.2 233.3,278.7 234.3,278.3 235.3,277.9 236.4,277.6 237.4,277.4 238.5,277.2 239.5,277.0 240.6,276.9 241.7,276.8 242.8,276.7 243.8,276.5 244.9,276.4" fill="none" stroke="#262626" stroke-width="1.6" stroke-linejoin="round" stroke-linecap="round"/>
<polyline points="69.9,349.6 69.9,348.5 69.9,347.4 69.8,346.2 69.8,345.0 69.8,343.7 69.7,342.5 69.7,341.1 69.6,339.8 69.6,338.5 69.5,337.1 69.4,335.8 69.4,334.4 69.3,333.2 69.3,331.9 69.3,330.7 69.2,329.5 69.2,328.4 69.2,327.3 69.2,326.3 69.2,325.4 69.3,324.6 69.3,323.8 69.4,323.2 69.5,322.7 69.6,322.3 69.7,322.0 69.9,321.9 70.7,322.7 71.8,323.9 72.7,324.0 73.8,323.9 74.8,323.5 75.8,322.9 76.3,322.3 76.8,321.4 77.2,320.3 77.5,319.0 77.9,317.8 78.3,316.5 78.6,315.4 79.0,314.5 79.4,313.9 79.8,313.6 80.4,313.9 81.1,314.7 81.7,315.8 82.4,317.0 83.0,317.9 83.7,318.3 84.7,317.7 85.7,316.5 86.7,315.9 87.4,316.2 88.1,317.0 88.8,318.0 89.5,319.1 90.2,320.1 90.9,320.9 91.6,321.3 92.6,321.0 93.6,320.3 94.6,319.9 95.4,320.2 96.2,320.8 97.1,321.6 98.0,322.6 98.9,323.4 99.7,324.0 100.5,324.3 101.5,324.0 102.5,323.3 103.5,322.9 104.4,323.2 105.4,323.9 106.4,324.7 107.5,325.4 108.5,325.8 109.7,325.7 111.0,325.3 112.2,324.9 113.4,324.9 114.3,325.2 115.2,325.8 116.1,326.5 116.9,327.2 117.7,328.0 118.4,328.8 119.1,329.8 119.6,330.9 120.1,332.0 120.6,332.9 121.3,333.4 122.2,333.2 123.2,332.6 124.3,331.7 125.3,331.0 126.3,330.8 127.1,331.2 127.7,332.0 128.4,333.1 129.1,334.1 129.8,334.9 130.6,335.3 131.5,335.2 132.4,334.7 133.4,333.9 134.4,333.0 135.4,332.2 136.3,331.6 137.2,331.3 138.5,331.6 139.6,332.2 140.9,332.5 141.8,332.3 142.9,331.8 144.0,331.2 145.1,330.5 146.2,329.9 147.2,329.5 148.1,329.3 149.3,329.7 150.4,330.4 151.7,330.8 152.6,330.7 153.6,330.5 154.7,330.1 155.8,329.6 156.9,329.2 158.0,328.9 159.0,328.8 160.2,329.0 161.3,329.4 162.5,329.8 163.8,330.0 164.6,330.0 165.6,330.0 166.6,329.9 167.6,329.9 168.7,329.7 169.7,329.6 170.8,329.4 171.9,329.2 172.9,329.0 173.8,328.7 174.7,328.4 175.7,328.0 176.5,327.4 177.3,326.8 178.1,326.2 178.9,325.6 179.7,325.1 180.7,324.7 181.5,324.5 182.4,324.3 183.3,324.2 184.3,324.1 185.3,324.0 186.3,324.0 187.3,324.0 188.4,324.0 189.5,324.0 190.6,324.0 191.7,324.0 192.8,324.0 193.7,324.0 194.7,324.0 195.7,324.1 196.7,324.1 197.7,324.2 198.7,324.2 199.7,324.3 200.8,324.4 201.9,324.5 202.9,324.6 204.0,324.6 205.0,324.7 206.1,324.7 207.1,324.8 208.1,324.8 209.1,324.8 210.1,324.8 211.0,324.7 212.1,324.6 213.2,324.5 214.2,324.4 215.3,324.2 216.3,324.0 217.3,323.8 218.3,323.6 219.3,323.4 220.3,323.2 221.3,323.0 222.3,322.7 223.3,322.5 224.3,322.3 225.3,322.1 226.4,321.8 227.4,321.6 228.5,321.4 229.5,321.1 230.5,320.9 231.6,320.6 232.6,320.3 233.6,320.1 234.5,319.8 235.5,319.5 236.4,319.2 237.4,318.8 238.4,318.5 239.4,318.1 240.3,317.7 241.2,317.2 242.1,316.8 243.0,316.4 244.0,316.0 244.9,315.6" fill="none" stroke="#2525e0" stroke-width="1.6" stroke-linejoin="round" stroke-linecap="round"/>
<polyline points="69.5,387.2 69.5,386.2 69.5,385.2 69.5,384.1 69.5,383.1 69.5,382.1 69.5,381.0 69.5,380.0 69.5,378.9 69.5,377.8 69.5,376.8 69.5,375.7 69.5,374.7 69.5,373.6 69.5,372.6 69.5,371.6 69.5,370.5 69.6,369.5 69.6,368.5 69.6,367.5 69.6,366.5 69.6,365.5 69.6,364.6 69.6,363.6 69.6,362.7 69.7,361.8 69.7,360.9 69.7,360.0 69.7,358.8 69.7,357.6 69.7,356.3 69.7,355.0 69.7,353.8 69.6,352.5 69.6,351.3 69.6,350.1 69.6,349.0 69.7,348.0 69.7,347.1 69.9,346.3 70.0,345.6 70.2,345.1 70.5,344.7 71.5,344.5 72.8,344.7 73.7,344.7 74.7,344.6 75.9,344.6 77.1,344.6 78.3,344.6 79.6,344.6 80.7,344.7 81.7,344.9 82.8,345.2 83.8,345.6 84.8,346.0 85.8,346.3 86.8,346.5 87.7,346.6 88.7,346.4 89.7,346.1 90.6,345.6 91.5,345.3 92.6,345.2 93.4,345.4 94.3,345.7 95.2,346.2 96.1,346.7 97.1,347.3 98.1,347.9 99.1,348.6 100.0,349.1 100.9,349.5 101.7,349.9 102.5,350.0 103.6,349.8 104.5,349.4 105.4,348.9 106.5,348.6 107.3,348.6 108.1,348.8 109.0,349.0 110.0,349.3 111.0,349.6 112.0,350.0 113.1,350.3 114.2,350.7 115.3,351.1 116.3,351.5 117.4,351.8 118.4,352.0 119.5,352.2 120.6,352.3 121.7,352.4 122.9,352.5 124.0,352.5 125.2,352.6 126.3,352.7 127.4,352.8 128.4,353.0 129.3,353.3 130.2,353.6 131.2,354.2 132.1,355.0 132.9,356.0 133.6,356.9 134.4,357.8 135.1,358.5 136.0,359.0 137.0,359.3 138.0,359.4 139.0,359.4 140.0,359.3 141.1,359.1 142.1,359.0 143.1,358.8 144.1,358.5 145.2,358.1 146.2,357.8 147.1,357.7 148.1,357.8 148.9,358.2 149.7,358.9 150.4,359.8 151.1,360.7 151.9,361.7 152.6,362.5 153.4,363.1 154.2,363.4 155.1,363.3 156.0,362.9 157.0,362.3 158.0,361.6 158.9,360.9 159.8,360.2 160.7,359.7 161.4,359.5 162.6,359.8 163.8,360.2 164.5,360.0 165.4,359.6 166.4,359.0 167.4,358.4 168.4,357.8 169.4,357.2 170.3,356.8 171.1,356.6 172.4,356.9 173.5,357.5 174.7,357.8 175.6,357.5 176.6,357.0 177.6,356.3 178.7,355.6 179.7,355.0 180.7,354.7 181.7,354.8 182.7,355.2 183.7,355.7 184.7,356.1 185.6,356.1 186.4,355.7 187.2,355.1 188.0,354.3 188.8,353.4 189.6,352.6 190.4,351.8 191.2,351.1 192.0,350.3 192.8,349.5 193.6,348.8 194.4,348.4 195.2,348.2 196.0,348.5 196.8,349.2 197.6,350.2 198.4,351.2 199.2,351.9 200.0,352.3 200.9,352.1 201.8,351.5 202.7,350.9 203.7,350.6 204.5,350.8 205.4,351.2 206.4,351.9 207.4,352.6 208.5,353.4 209.5,354.1 210.5,354.8 211.4,355.2 212.2,355.4 213.2,355.2 214.1,354.6 214.9,354.0 215.9,353.7 216.8,353.9 217.8,354.3 218.8,354.9 219.8,355.5 220.8,356.1 221.9,356.6 222.9,356.9 223.9,357.1 225.0,357.2 226.0,357.4 227.1,357.5 228.2,357.6 229.2,357.8 230.3,357.9 231.4,358.0 232.5,358.1 233.5,358.2 234.6,358.4 235.5,358.6 236.4,359.0 237.2,359.7 238.0,360.6 238.6,361.6 239.3,362.4 240.0,362.7 240.8,362.6 241.6,362.1 242.4,361.4 243.2,360.5 244.1,359.7 244.9,359.0" fill="none" stroke="#ee2222" stroke-width="1.6" stroke-linejoin="round" stroke-linecap="round"/>
<rect x="46.80" y="244.60" width="244.00" height="180.30" fill="none" stroke="#2c2c2c" stroke-width="1.4" stroke-linejoin="round"/>
<line x1="68.80" y1="424.90" x2="68.80" y2="421.70" stroke="#2c2c2c" stroke-width="1.2"/>
<text transform="translate(68.80,436.80) scale(0.9,1)" font-family='"Liberation Serif", serif' font-size="10" text-anchor="middle" fill="#1e1e1e" stroke="#1e1e1e" stroke-width="0.25">0.0</text>
<line x1="91.00" y1="424.90" x2="91.00" y2="423.10" stroke="#2c2c2c" stroke-width="1.2"/>
<line x1="113.20" y1="424.90" x2="113.20" y2="421.70" stroke="#2c2c2c" stroke-width="1.2"/>
<text transform="translate(113.20,436.80) scale(0.9,1)" font-family='"Liberation Serif", serif' font-size="10" text-anchor="middle" fill="#1e1e1e" stroke="#1e1e1e" stroke-width="0.25">0.2</text>
<line x1="135.40" y1="424.90" x2="135.40" y2="423.10" stroke="#2c2c2c" stroke-width="1.2"/>
<line x1="157.60" y1="424.90" x2="157.60" y2="421.70" stroke="#2c2c2c" stroke-width="1.2"/>
<text transform="translate(157.60,436.80) scale(0.9,1)" font-family='"Liberation Serif", serif' font-size="10" text-anchor="middle" fill="#1e1e1e" stroke="#1e1e1e" stroke-width="0.25">0.4</text>
<line x1="179.80" y1="424.90" x2="179.80" y2="423.10" stroke="#2c2c2c" stroke-width="1.2"/>
<line x1="202.00" y1="424.90" x2="202.00" y2="421.70" stroke="#2c2c2c" stroke-width="1.2"/>
<text transform="translate(202.00,436.80) scale(0.9,1)" font-family='"Liberation Serif", serif' font-size="10" text-anchor="middle" fill="#1e1e1e" stroke="#1e1e1e" stroke-width="0.25">0.6</text>
<line x1="224.20" y1="424.90" x2="224.20" y2="423.10" stroke="#2c2c2c" stroke-width="1.2"/>
<line x1="246.40" y1="424.90" x2="246.40" y2="421.70" stroke="#2c2c2c" stroke-width="1.2"/>
<text transform="translate(246.40,436.80) scale(0.9,1)" font-family='"Liberation Serif", serif' font-size="10" text-anchor="middle" fill="#1e1e1e" stroke="#1e1e1e" stroke-width="0.25">0.8</text>
<line x1="268.60" y1="424.90" x2="268.60" y2="423.10" stroke="#2c2c2c" stroke-width="1.2"/>
<line x1="290.80" y1="424.90" x2="290.80" y2="421.70" stroke="#2c2c2c" stroke-width="1.2"/>
<text transform="translate(290.80,436.80) scale(0.9,1)" font-family='"Liberation Serif", serif' font-size="10" text-anchor="middle" fill="#1e1e1e" stroke="#1e1e1e" stroke-width="0.25">1.0</text>
<line x1="46.80" y1="424.86" x2="50.30" y2="424.86" stroke="#2c2c2c" stroke-width="1.2"/>
<text transform="translate(43.20,428.36) scale(0.95,1)" font-family='"Liberation Serif", serif' font-size="10" text-anchor="end" fill="#1e1e1e" stroke="#1e1e1e" stroke-width="0.25">-20</text>
<line x1="46.80" y1="406.83" x2="48.80" y2="406.83" stroke="#2c2c2c" stroke-width="1.2"/>
<line x1="46.80" y1="388.80" x2="50.30" y2="388.80" stroke="#2c2c2c" stroke-width="1.2"/>
<text transform="translate(43.20,392.30) scale(0.95,1)" font-family='"Liberation Serif", serif' font-size="10" text-anchor="end" fill="#1e1e1e" stroke="#1e1e1e" stroke-width="0.25">0</text>
<line x1="46.80" y1="370.77" x2="48.80" y2="370.77" stroke="#2c2c2c" stroke-width="1.2"/>
<line x1="46.80" y1="352.74" x2="50.30" y2="352.74" stroke="#2c2c2c" stroke-width="1.2"/>
<text transform="translate(43.20,356.24) scale(0.95,1)" font-family='"Liberation Serif", serif' font-size="10" text-anchor="end" fill="#1e1e1e" stroke="#1e1e1e" stroke-width="0.25">20</text>
<line x1="46.80" y1="334.71" x2="48.80" y2="334.71" stroke="#2c2c2c" stroke-width="1.2"/>
<line x1="46.80" y1="316.68" x2="50.30" y2="316.68" stroke="#2c2c2c" stroke-width="1.2"/>
<text transform="translate(43.20,320.18) scale(0.95,1)" font-family='"Liberation Serif", serif' font-size="10" text-anchor="end" fill="#1e1e1e" stroke="#1e1e1e" stroke-width="0.25">40</text>
<line x1="46.80" y1="298.65" x2="48.80" y2="298.65" stroke="#2c2c2c" stroke-width="1.2"/>
<line x1="46.80" y1="280.62" x2="50.30" y2="280.62" stroke="#2c2c2c" stroke-width="1.2"/>
<text transform="translate(43.20,284.12) scale(0.95,1)" font-family='"Liberation Serif", serif' font-size="10" text-anchor="end" fill="#1e1e1e" stroke="#1e1e1e" stroke-width="0.25">60</text>
<line x1="46.80" y1="262.59" x2="48.80" y2="262.59" stroke="#2c2c2c" stroke-width="1.2"/>
<line x1="46.80" y1="244.56" x2="50.30" y2="244.56" stroke="#2c2c2c" stroke-width="1.2"/>
<text transform="translate(43.20,248.06) scale(0.95,1)" font-family='"Liberation Serif", serif' font-size="10" text-anchor="end" fill="#1e1e1e" stroke="#1e1e1e" stroke-width="0.25">80</text>
<text x="169.8" y="452.2" font-family='"Liberation Serif", serif' font-size="13.4" text-anchor="middle" fill="#222" stroke="#222" stroke-width="0.15">True strain</text>
<text x="0" y="0" transform="translate(16.5,343.4) rotate(-90)" font-family='"Liberation Serif", serif' font-size="13.4" text-anchor="middle" fill="#222" stroke="#222" stroke-width="0.15">True stress (MPa)</text>
<text x="160.0" y="260.9" font-family='"Liberation Serif", serif' font-size="10" fill="#222" stroke="#222" stroke-width="0.2">0.01 s<tspan font-size="7.5" dx="0.6" dy="-3.4">-1</tspan></text>
<text x="251.6" y="280.2" font-family='"Liberation Serif", serif' font-size="10" text-anchor="start" fill="#222" stroke="#222" stroke-width="0.2">850<tspan font-size="5" dx="0.5" dy="-2.4" fill="#777" stroke="#777" stroke-width="0.3">o</tspan><tspan dx="0.2" dy="2.4">C</tspan></text>
<text x="251.6" y="321.3" font-family='"Liberation Serif", serif' font-size="10" text-anchor="start" fill="#3434e6" stroke="#3434e6" stroke-width="0.2">950<tspan font-size="5" dx="0.5" dy="-2.4" fill="#777" stroke="#777" stroke-width="0.3">o</tspan><tspan dx="0.2" dy="2.4">C</tspan></text>
<text x="250.9" y="362.4" font-family='"Liberation Serif", serif' font-size="10" text-anchor="start" fill="#e52b2b" stroke="#e52b2b" stroke-width="0.2">1050<tspan font-size="5" dx="0.5" dy="-2.4" fill="#777" stroke="#777" stroke-width="0.3">o</tspan><tspan dx="0.2" dy="2.4">C</tspan></text>
<text transform="translate(0.80,243.20) scale(1.03,1)" font-family='"Liberation Serif", serif' font-size="17.5" text-anchor="start" fill="#111" stroke="#111" stroke-width="0.35">(c)</text>
<circle cx="69.6" cy="380.6" r="1.2" fill="#9a1a1a"/>
<rect x="356.37" y="352.52" width="21.50" height="72.48" fill="#000000"/>
<rect x="377.87" y="324.12" width="21.50" height="100.88" fill="#ff0000"/>
<rect x="399.37" y="260.02" width="21.50" height="164.98" fill="#0000ff"/>
<rect x="437.80" y="377.78" width="21.50" height="47.22" fill="#000000"/>
<rect x="459.30" y="360.29" width="21.50" height="64.71" fill="#ff0000"/>
<rect x="480.80" y="314.89" width="21.50" height="110.11" fill="#0000ff"/>
<rect x="519.23" y="394.77" width="21.50" height="30.23" fill="#000000"/>
<rect x="540.73" y="379.35" width="21.50" height="45.65" fill="#ff0000"/>
<rect x="562.23" y="360.66" width="21.50" height="64.34" fill="#0000ff"/>
<rect x="347.90" y="242.90" width="244.30" height="182.10" fill="none" stroke="#858585" stroke-width="1.6" stroke-linejoin="round"/>
<line x1="343.90" y1="425.00" x2="347.90" y2="425.00" stroke="#333" stroke-width="1.1"/>
<text transform="translate(341.40,428.10) scale(0.8,1)" font-family='"Liberation Sans", sans-serif' font-size="10" text-anchor="end" fill="#222" stroke="#222" stroke-width="0.25">0</text>
<line x1="345.70" y1="412.86" x2="347.90" y2="412.86" stroke="#333" stroke-width="1.1"/>
<line x1="343.90" y1="400.72" x2="347.90" y2="400.72" stroke="#333" stroke-width="1.1"/>
<text transform="translate(341.40,403.82) scale(0.8,1)" font-family='"Liberation Sans", sans-serif' font-size="10" text-anchor="end" fill="#222" stroke="#222" stroke-width="0.25">20</text>
<line x1="345.70" y1="388.58" x2="347.90" y2="388.58" stroke="#333" stroke-width="1.1"/>
<line x1="343.90" y1="376.44" x2="347.90" y2="376.44" stroke="#333" stroke-width="1.1"/>
<text transform="translate(341.40,379.54) scale(0.8,1)" font-family='"Liberation Sans", sans-serif' font-size="10" text-anchor="end" fill="#222" stroke="#222" stroke-width="0.25">40</text>
<line x1="345.70" y1="364.30" x2="347.90" y2="364.30" stroke="#333" stroke-width="1.1"/>
<line x1="343.90" y1="352.16" x2="347.90" y2="352.16" stroke="#333" stroke-width="1.1"/>
<text transform="translate(341.40,355.26) scale(0.8,1)" font-family='"Liberation Sans", sans-serif' font-size="10" text-anchor="end" fill="#222" stroke="#222" stroke-width="0.25">60</text>
<line x1="345.70" y1="340.02" x2="347.90" y2="340.02" stroke="#333" stroke-width="1.1"/>
<line x1="343.90" y1="327.88" x2="347.90" y2="327.88" stroke="#333" stroke-width="1.1"/>
<text transform="translate(341.40,330.98) scale(0.8,1)" font-family='"Liberation Sans", sans-serif' font-size="10" text-anchor="end" fill="#222" stroke="#222" stroke-width="0.25">80</text>
<line x1="345.70" y1="315.74" x2="347.90" y2="315.74" stroke="#333" stroke-width="1.1"/>
<line x1="343.90" y1="303.60" x2="347.90" y2="303.60" stroke="#333" stroke-width="1.1"/>
<text transform="translate(341.40,306.70) scale(0.8,1)" font-family='"Liberation Sans", sans-serif' font-size="10" text-anchor="end" fill="#222" stroke="#222" stroke-width="0.25">100</text>
<line x1="345.70" y1="291.46" x2="347.90" y2="291.46" stroke="#333" stroke-width="1.1"/>
<line x1="343.90" y1="279.32" x2="347.90" y2="279.32" stroke="#333" stroke-width="1.1"/>
<text transform="translate(341.40,282.42) scale(0.8,1)" font-family='"Liberation Sans", sans-serif' font-size="10" text-anchor="end" fill="#222" stroke="#222" stroke-width="0.25">120</text>
<line x1="345.70" y1="267.18" x2="347.90" y2="267.18" stroke="#333" stroke-width="1.1"/>
<line x1="343.90" y1="255.04" x2="347.90" y2="255.04" stroke="#333" stroke-width="1.1"/>
<text transform="translate(341.40,258.14) scale(0.8,1)" font-family='"Liberation Sans", sans-serif' font-size="10" text-anchor="end" fill="#222" stroke="#222" stroke-width="0.25">140</text>
<line x1="345.70" y1="242.90" x2="347.90" y2="242.90" stroke="#333" stroke-width="1.1"/>
<line x1="347.90" y1="425.00" x2="347.90" y2="426.60" stroke="#333" stroke-width="1.1"/>
<line x1="429.33" y1="425.00" x2="429.33" y2="428.80" stroke="#333" stroke-width="1.1"/>
<line x1="510.77" y1="425.00" x2="510.77" y2="428.80" stroke="#333" stroke-width="1.1"/>
<line x1="592.20" y1="425.00" x2="592.20" y2="426.60" stroke="#333" stroke-width="1.1"/>
<line x1="388.62" y1="425.00" x2="388.62" y2="427.00" stroke="#333" stroke-width="1.1"/>
<text transform="translate(389.22,439.90) scale(0.84,1)" font-family='"Liberation Sans", sans-serif' font-size="10" text-anchor="middle" fill="#222" stroke="#222" stroke-width="0.25">850</text>
<line x1="470.05" y1="425.00" x2="470.05" y2="427.00" stroke="#333" stroke-width="1.1"/>
<text transform="translate(470.65,439.90) scale(0.84,1)" font-family='"Liberation Sans", sans-serif' font-size="10" text-anchor="middle" fill="#222" stroke="#222" stroke-width="0.25">950</text>
<line x1="551.48" y1="425.00" x2="551.48" y2="427.00" stroke="#333" stroke-width="1.1"/>
<text transform="translate(552.08,439.90) scale(0.84,1)" font-family='"Liberation Sans", sans-serif' font-size="10" text-anchor="middle" fill="#222" stroke="#222" stroke-width="0.25">1050</text>
<text x="470.5" y="446.8" font-family='"Liberation Serif", serif' font-size="10.5" text-anchor="middle" fill="#222" textLength="68.5" lengthAdjust="spacingAndGlyphs" stroke="#222" stroke-width="0.2">Temperature(°C)</text>
<text x="0" y="0" transform="translate(322.4,341.3) rotate(-90)" font-family='"Liberation Serif", serif' font-size="10.2" text-anchor="middle" fill="#222" stroke="#222" stroke-width="0.2" textLength="33.6" lengthAdjust="spacingAndGlyphs">σ(MPa)</text>
<text transform="translate(302.20,245.30) scale(1.03,1)" font-family='"Liberation Serif", serif' font-size="17.5" text-anchor="start" fill="#111" stroke="#111" stroke-width="0.35">(d)</text>
<rect x="518.6" y="246.8" width="65" height="47.8" fill="#fff" stroke="#c8c8c8" stroke-width="1"/>
<rect x="522" y="251.0" width="22.4" height="11" fill="#000000"/>
<text x="547" y="260.1" font-family='"Liberation Sans", sans-serif' font-size="10.5" fill="#222" stroke="#222" stroke-width="0.25">0.01s<tspan font-size="6.5" dx="0.2" dy="-4.6" stroke-width="0.1">-1</tspan></text>
<rect x="522" y="265.8" width="22.4" height="11" fill="#ff0000"/>
<text x="547" y="274.9" font-family='"Liberation Sans", sans-serif' font-size="10.5" fill="#222" stroke="#222" stroke-width="0.25">0.1s<tspan font-size="6.5" dx="0.2" dy="-4.6" stroke-width="0.1">-1</tspan></text>
<rect x="522" y="280.6" width="22.4" height="11" fill="#0000ff"/>
<text x="547" y="289.7" font-family='"Liberation Sans", sans-serif' font-size="10.5" fill="#222" stroke="#222" stroke-width="0.25">1s<tspan font-size="6.5" dx="0.2" dy="-4.6" stroke-width="0.1">-1</tspan></text>
</svg></body></html>
